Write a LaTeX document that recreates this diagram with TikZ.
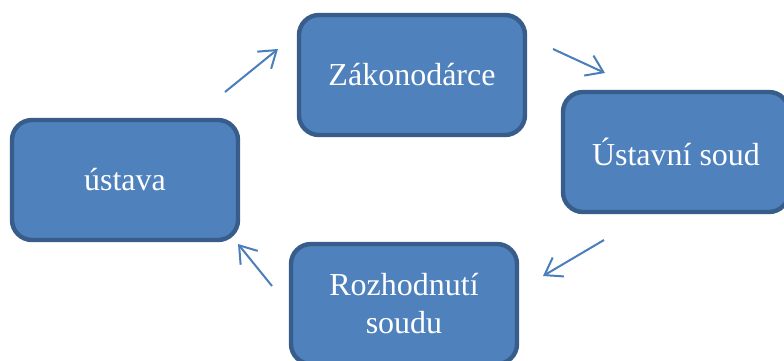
\documentclass[tikz,border=0pt]{standalone}
\usepackage{fontspec}
\setmainfont{Liberation Serif}
\usetikzlibrary{arrows.meta,positioning}
\definecolor{boxfill}{HTML}{4F81BD}
\definecolor{boxline}{HTML}{385D8A}
\definecolor{arrline}{HTML}{4A7EBB}

\begin{document}
\begin{tikzpicture}[
  x=0.5pt, y=-0.5pt,
  box/.style={draw=boxline, line width=2.2pt, fill=boxfill, rounded corners=10pt,
              minimum width=113pt, minimum height=60pt, align=center,
              text=white, font=\fontsize{16}{19}\selectfont},
  arr/.style={-{Straight Barb[length=8pt,width=11pt]}, arrline, line width=1pt}
]
\clip (0,0) rectangle (784,360);
\node[box] (ustava) at (125,180) {ústava};
\node[box] (zakon) at (412,75) {Zákonodárce};
\node[box] (soud) at (676,152) {Ústavní soud};
\node[box] (rozh) at (404,304) {Rozhodnutí\\soudu};
% free-standing arrows between the boxes
\coordinate (a1) at (225,92);  \coordinate (b1) at (278,49);
\coordinate (a2) at (553,49);  \coordinate (b2) at (605,73);
\coordinate (a3) at (604,240); \coordinate (b3) at (543,276);
\coordinate (a4) at (272,286); \coordinate (b4) at (238,244);
\draw[arr] (a1) -- (b1);
\draw[arr] (a2) -- (b2);
\draw[arr] (a3) -- (b3);
\draw[arr] (a4) -- (b4);
\end{tikzpicture}
\end{document}
